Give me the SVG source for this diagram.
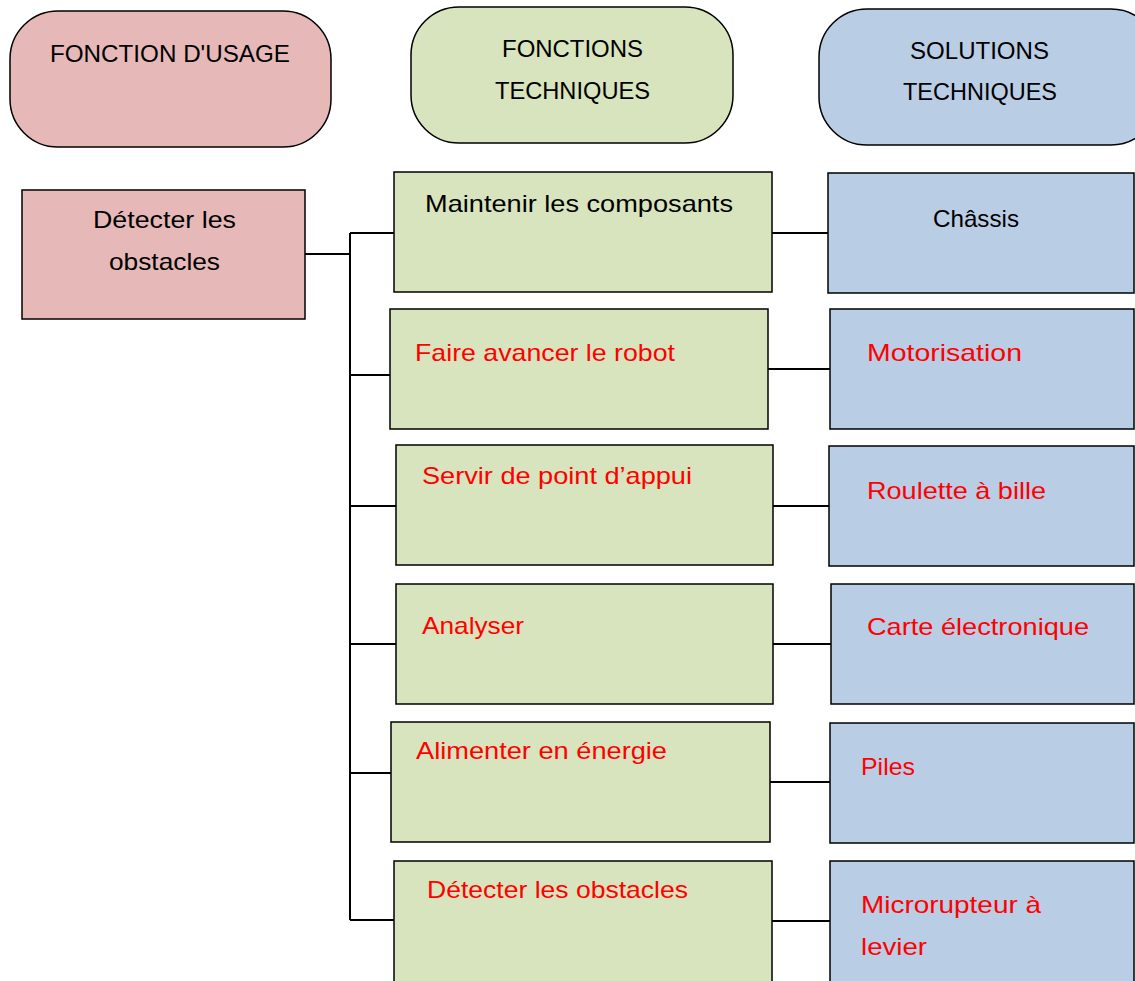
<svg xmlns="http://www.w3.org/2000/svg" width="1135" height="981" viewBox="0 0 1135 981">
<style>
text{font-family:"Liberation Sans",Arial,sans-serif;font-size:24px;fill:#000}
.r{fill:#FF0000}
.pk{fill:#E6B9B8;stroke:#000;stroke-width:1.5}
.gr{fill:#D7E4BD;stroke:#000;stroke-width:1.5}
.bl{fill:#B9CDE5;stroke:#000;stroke-width:1.5}
.c{fill:none;stroke:#000;stroke-width:2}
</style>
<rect width="1135" height="981" fill="#fff"/>
<g id="h1"><rect class="pk" x="10" y="11" width="321" height="136" rx="48"/><text x="50" y="62" textLength="240" lengthAdjust="spacingAndGlyphs">FONCTION D'USAGE</text></g>
<g id="h2"><rect class="gr" x="411" y="7" width="322" height="136" rx="48"/><text x="502" y="57" textLength="141" lengthAdjust="spacingAndGlyphs">FONCTIONS</text><text x="495" y="99" textLength="155" lengthAdjust="spacingAndGlyphs">TECHNIQUES</text></g>
<g id="h3"><rect class="bl" x="819" y="9" width="340" height="136" rx="48"/><text x="910" y="59" textLength="139" lengthAdjust="spacingAndGlyphs">SOLUTIONS</text><text x="903" y="100" textLength="154" lengthAdjust="spacingAndGlyphs">TECHNIQUES</text></g>
<g id="fu"><rect class="pk" x="22" y="190" width="283" height="129"/><text x="93" y="228" textLength="143" lengthAdjust="spacingAndGlyphs">Détecter les</text><text x="109" y="270" textLength="111" lengthAdjust="spacingAndGlyphs">obstacles</text></g>
<g id="connectors">
<path class="c" d="M305 254H350M350 233V920"/>
<path class="c" d="M350 233H394M350 375H390M350 506H396M350 644H396M350 773H391M350 920H394"/>
<path class="c" d="M772 233H828M768 369H830M773 506H829M773 644H831M770 782H830M772 921H830" stroke-width="1.5"/>
</g>
<g id="ft1"><rect class="gr" x="394" y="172" width="378" height="120"/><text x="425" y="212" textLength="308" lengthAdjust="spacingAndGlyphs">Maintenir les composants</text></g>
<g id="ft2"><rect class="gr" x="390" y="309" width="378" height="120"/><text class="r" x="415" y="361" textLength="260" lengthAdjust="spacingAndGlyphs">Faire avancer le robot</text></g>
<g id="ft3"><rect class="gr" x="396" y="445" width="377" height="120"/><text class="r" x="422" y="484" textLength="270" lengthAdjust="spacingAndGlyphs">Servir de point d’appui</text></g>
<g id="ft4"><rect class="gr" x="396" y="584" width="377" height="120"/><text class="r" x="422" y="634" textLength="102" lengthAdjust="spacingAndGlyphs">Analyser</text></g>
<g id="ft5"><rect class="gr" x="391" y="722" width="379" height="120"/><text class="r" x="416" y="759" textLength="251" lengthAdjust="spacingAndGlyphs">Alimenter en énergie</text></g>
<g id="ft6"><rect class="gr" x="394" y="861" width="378" height="130"/><text class="r" x="427" y="898" textLength="261" lengthAdjust="spacingAndGlyphs">Détecter les obstacles</text></g>
<g id="st1"><rect class="bl" x="828" y="173" width="306" height="120"/><text x="933" y="227" textLength="86" lengthAdjust="spacingAndGlyphs">Châssis</text></g>
<g id="st2"><rect class="bl" x="830" y="309" width="304" height="120"/><text class="r" x="867" y="361" textLength="155" lengthAdjust="spacingAndGlyphs">Motorisation</text></g>
<g id="st3"><rect class="bl" x="829" y="446" width="305" height="120"/><text class="r" x="867" y="499" textLength="179" lengthAdjust="spacingAndGlyphs">Roulette à bille</text></g>
<g id="st4"><rect class="bl" x="831" y="584" width="303" height="120"/><text class="r" x="867" y="635" textLength="222" lengthAdjust="spacingAndGlyphs">Carte électronique</text></g>
<g id="st5"><rect class="bl" x="830" y="723" width="304" height="120"/><text class="r" x="861" y="775" textLength="54" lengthAdjust="spacingAndGlyphs">Piles</text></g>
<g id="st6"><rect class="bl" x="830" y="861" width="304" height="130"/><text class="r" x="861" y="913" textLength="180" lengthAdjust="spacingAndGlyphs">Microrupteur à</text><text class="r" x="861" y="955" textLength="66" lengthAdjust="spacingAndGlyphs">levier</text></g>
</svg>
